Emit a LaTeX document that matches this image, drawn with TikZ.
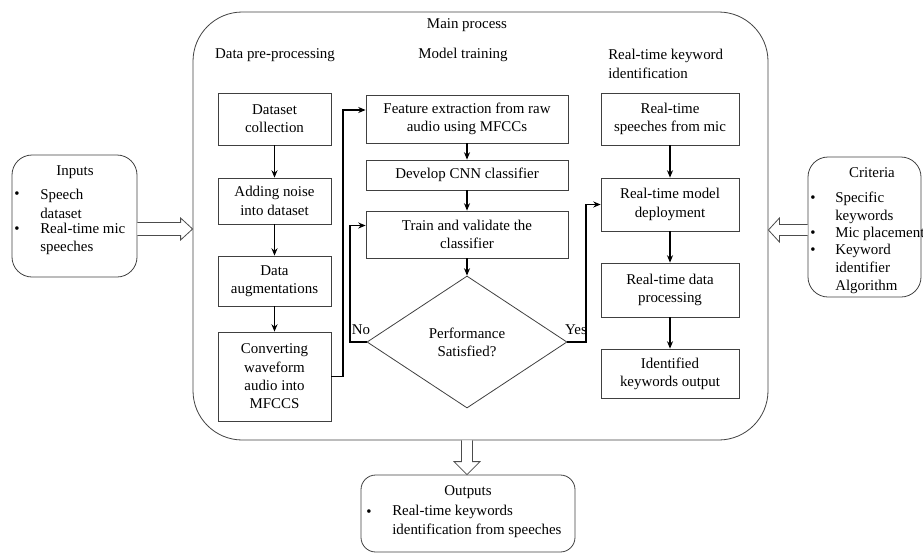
\documentclass[tikz,border=0pt]{standalone}
\usepackage{fontspec}
\setmainfont{LiberationSerif}[Extension=.ttf, UprightFont=*-Regular, BoldFont=*-Bold, ItalicFont=*-Italic, BoldItalicFont=*-BoldItalic]
\usetikzlibrary{shapes.geometric,calc,arrows.meta}
\begin{document}
\begin{tikzpicture}[x=0.75pt,y=-0.75pt,
  font=\fontsize{11.2}{13.7}\selectfont,
  box/.style={draw=black!75, line width=0.6pt, align=center, inner sep=1pt},
  lbox/.style={box, minimum width=84.75pt},
  mbox/.style={box, minimum width=151.5pt},
  rbox/.style={box, minimum width=103.5pt},
  cont/.style={draw=black!75, line width=0.6pt},
  arr/.style={draw=black, line width=0.9pt, -{Stealth[length=5.5pt,width=4.5pt]}},
  hollow/.style={draw=black!70, line width=0.6pt, fill=white, line join=miter},
  txt/.style={inner sep=0pt, align=left, anchor=west},
]
\useasboundingbox (0,0) rectangle (923,554);

% containers
\node[cont, rounded corners=37pt, minimum width=431.25pt, minimum height=321pt] (main) at (480.5,226) {};
\node[cont, rounded corners=15pt, minimum width=93.75pt, minimum height=91.5pt] (inp) at (74.5,216) {};
\node[cont, rounded corners=15pt, minimum width=84.75pt, minimum height=105pt] (crit) at (864.5,227) {};
\node[cont, rounded corners=11pt, minimum width=160.5pt, minimum height=57.75pt] (out) at (468,513.5) {};

% headings
\node (hmain) at (467,25) {Main process};
\node (hpre) at (275,55) {Data pre-processing};
\node (htrain) at (463,55) {Model training};
\node[txt] (hrt) at (608,64) {Real-time keyword\\identification};

% left column
\node[lbox, minimum height=39pt] (ds) at (274.5,119) {Dataset\\collection};
\node[lbox, minimum height=34.5pt] (noise) at (274.5,201) {Adding noise\\into dataset};
\node[lbox, minimum height=37.5pt] (aug) at (274.5,281) {Data\\augmentations};
\node[lbox, minimum height=66.75pt] (conv) at (274.5,376.5) {Converting\\waveform\\audio into\\MFCCS};

% middle column
\node[mbox, minimum height=36pt] (feat) at (467,119) {Feature extraction from raw\\audio using MFCCs};
\node[mbox, minimum height=22.5pt] (cnn) at (467,175) {Develop CNN classifier};
\node[mbox, minimum height=35.25pt] (train) at (467,234.5) {Train and validate the\\classifier};
\node[diamond, draw=black!75, line width=0.6pt, align=center, inner sep=0pt,
      minimum width=150pt, minimum height=99pt] (dia) at (467,342) {Performance\\Satisfied?};

% right column
\node[rbox, minimum height=39pt] (rts) at (670,119) {Real-time\\speeches from mic};
\node[rbox, minimum height=39.75pt] (dep) at (670,204.5) {Real-time model\\deployment};
\node[rbox, minimum height=40.5pt] (proc) at (670,290) {Real-time data\\processing};
\node[rbox, minimum height=36.75pt] (ident) at (670,373.5) {Identified\\keywords output};

% arrows
\draw[arr] (ds) -- (noise);
\draw[arr] (noise) -- (aug);
\draw[arr] (aug) -- (conv);
\draw[arr] (feat) -- (cnn);
\draw[arr] (cnn) -- (train);
\draw[arr] (train) -- (dia);
\draw[arr] (rts) -- (dep);
\draw[arr] (dep) -- (proc);
\draw[arr] (proc) -- (ident);

\coordinate (xl) at (343,0);
\draw[arr] (conv.east) -- (conv.east -| xl) |- ($(feat.west)+(0,-9)$);
\coordinate (xn) at (350,0);
\draw[arr] (dia.west) -- (dia.west -| xn) |- ($(train.west)+(0,-9)$);
\coordinate (xy) at (586,0);
\draw[arr] (dia.east) -- (dia.east -| xy) |- (dep.west);
\node (lno) at (361,330) {No};
\node (lyes) at (576,330) {Yes};

% inputs text
\node (tin) at (75,172) {Inputs};
\node[txt] (bi1) at (14,195) {•};
\node[txt] (bi2) at (14,230) {•};
\node[txt] (ti1) at (40,204) {Speech\\dataset};
\node[txt] (ti2) at (40,239) {Real-time mic\\speeches};

% criteria text
\node (tcr) at (872,173) {Criteria};
\node[txt] (bc1) at (810,199) {•};
\node[txt] (bc2) at (810,234) {•};
\node[txt] (bc3) at (810,251.5) {•};
\node[txt] (tc1) at (835,207.75) {Specific\\keywords};
\node[txt] (tc2) at (835,234) {Mic placement};
\node[txt] (tc3) at (835,269) {Keyword\\identifier\\Algorithm};

% outputs text
\node (tout) at (468,492) {Outputs};
\node[txt] (bo1) at (366,513) {•};
\node[txt] (to1) at (392,521.5) {Real-time keywords\\identification from speeches};

% hollow arrows
\coordinate (ia) at (inp.east |- 0,229);
\coordinate (ib) at (main.west |- 0,229);
\draw[hollow] ($(ia)+(0,-6.5)$) -- ($(ib)+(-12,-6.5)$) -- ($(ib)+(-12,-11)$) -- (ib)
  -- ($(ib)+(-12,11)$) -- ($(ib)+(-12,6.5)$) -- ($(ia)+(0,6.5)$);
\coordinate (ca) at (crit.west |- 0,230);
\coordinate (cb) at (main.east |- 0,230);
\draw[hollow] ($(ca)+(0,-5.5)$) -- ($(cb)+(11,-5.5)$) -- ($(cb)+(11,-12)$) -- (cb)
  -- ($(cb)+(11,12)$) -- ($(cb)+(11,5.5)$) -- ($(ca)+(0,5.5)$);
\coordinate (oa) at (467,0 |- main.south);
\coordinate (ob) at (oa |- out.north);
\draw[hollow] ($(oa)+(-5.5,0)$) -- ($(ob)+(-5.5,-13)$) -- ($(ob)+(-13,-13)$) -- (ob)
  -- ($(ob)+(13,-13)$) -- ($(ob)+(5.5,-13)$) -- ($(oa)+(5.5,0)$);
\end{tikzpicture}
\end{document}
